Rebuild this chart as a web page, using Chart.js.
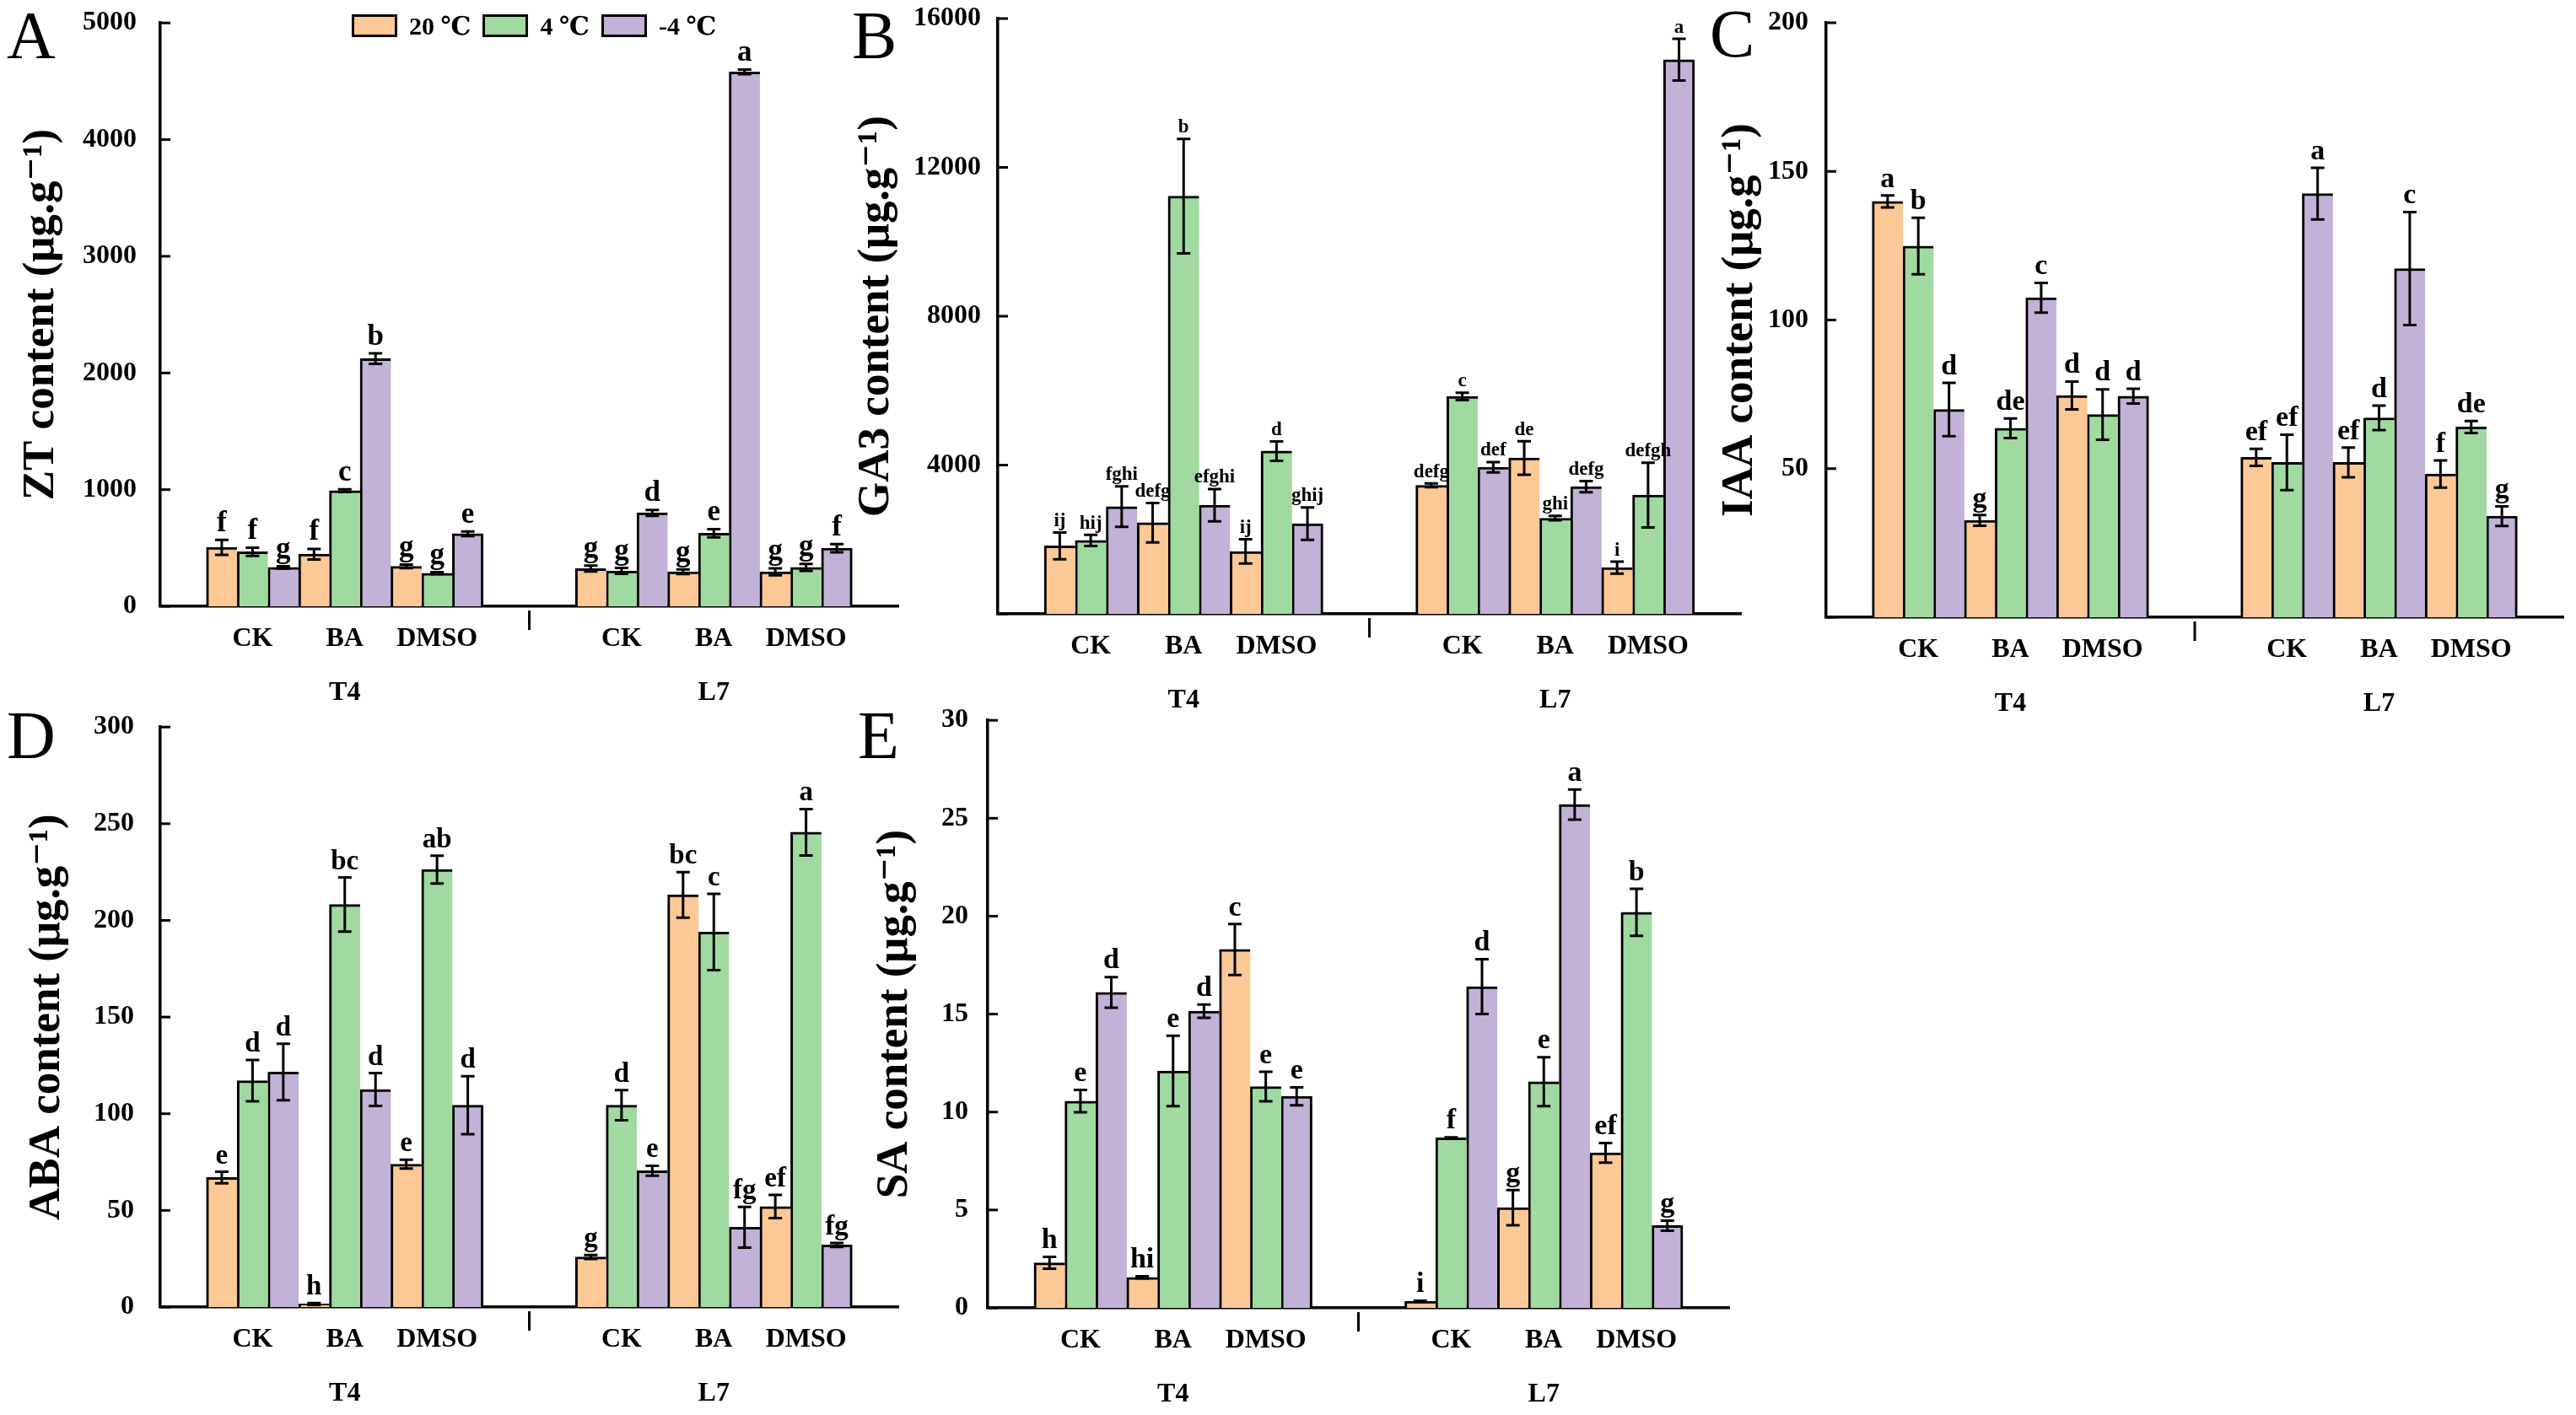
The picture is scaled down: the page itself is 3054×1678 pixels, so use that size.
<!DOCTYPE html>
<html>
<head>
<meta charset="utf-8">
<script src="https://cdn.jsdelivr.net/npm/chart.js@4.4.0/dist/chart.umd.min.js"></script>
<style>
  html, body { margin: 0; padding: 0; background: #fff; }
  #page { position: relative; width: 3054px; height: 1678px; overflow: hidden; }
  canvas { position: absolute; }
  .tag { position: absolute; font: 80px 'Liberation Serif', 'Times New Roman', serif; line-height: 1; color: #000; }
  #legend { position: absolute; left: 417px; top: 13px; display: flex; align-items: center;
            font: bold 30px 'Liberation Serif', 'DejaVu Serif', serif; color: #000; }
  #legend .box { width: 54px; height: 27px; box-sizing: border-box; border: 3px solid #000; margin-right: 14px; }
  #legend .txt { margin-right: 14px; }
</style>
</head>
<body>
<div id="page">
  <canvas id="chartA"></canvas>
  <canvas id="chartB"></canvas>
  <canvas id="chartC"></canvas>
  <canvas id="chartD"></canvas>
  <canvas id="chartE"></canvas>
  <div class="tag" style="left:8px;top:2px">A</div>
  <div class="tag" style="left:1010px;top:2px">B</div>
  <div class="tag" style="left:2027px;top:0px">C</div>
  <div class="tag" style="left:8px;top:832px">D</div>
  <div class="tag" style="left:1017px;top:832px">E</div>
  <div id="legend"></div>
</div>
<script>
const categories = ['CK', 'BA', 'DMSO'];
const lines = ['T4', 'L7'];
const temps = ['20 ℃', '4 ℃', '-4 ℃'];

// order inside each series: T4 CK, T4 BA, T4 DMSO, L7 CK, L7 BA, L7 DMSO
const ztMean = [[505, 447, 342, 323, 296, 296], [467, 991, 284, 303, 626, 334], [334, 2123, 622, 801, 4580, 498]];
const ztErr = [[65, 45, 15, 25, 20, 30], [35, 12, 8, 25, 35, 30], [10, 45, 20, 25, 20, 35]];
const ztSig = [['f', 'f', 'g', 'g', 'g', 'g'], ['f', 'c', 'g', 'g', 'e', 'g'], ['g', 'b', 'e', 'd', 'a', 'f']];

const ga3Mean = [[1828, 2449, 1678, 3456, 4190, 1243], [1977, 11226, 4376, 5843, 2573, 3195], [2884, 2921, 2424, 3941, 3419, 14894]];
const ga3Err = [[360, 530, 325, 50, 450, 160], [150, 1540, 260, 100, 60, 870], [545, 435, 435, 140, 150, 560]];
const ga3Sig = [['ij', 'defg', 'ij', 'defg', 'de', 'i'], ['hij', 'b', 'd', 'c', 'ghi', 'defgh'], ['fghi', 'efghi', 'ghij', 'def', 'defg', 'a']];

const iaaMean = [[139.9, 32.6, 74.6, 53.8, 52.1, 48.2], [124.9, 63.6, 68.2, 52.1, 67.1, 64.0], [69.9, 107.5, 74.4, 142.5, 117.3, 34.0]];
const iaaErr = [[2, 1.8, 4.7, 2.9, 5, 4.6], [9.5, 3.3, 8.5, 9.3, 4.1, 2], [9, 5, 2.5, 8.7, 19, 3.3]];
const iaaSig = [['a', 'g', 'd', 'ef', 'ef', 'f'], ['b', 'de', 'd', 'ef', 'd', 'de'], ['d', 'c', 'd', 'a', 'c', 'g']];

const abaMean = [[67.0, 1.6, 73.9, 25.9, 213.2, 52.0], [117.1, 208.2, 226.3, 104.4, 194.0, 245.6], [121.6, 112.5, 104.4, 70.5, 41.3, 32.1]];
const abaErr = [[3, 0.5, 2.3, 1, 11.8, 6], [10.7, 14, 7.2, 7.8, 19.7, 12], [14.6, 8.5, 15, 2.6, 10.5, 1]];
const abaSig = [['e', 'h', 'e', 'g', 'bc', 'ef'], ['d', 'bc', 'ab', 'd', 'c', 'a'], ['d', 'd', 'd', 'e', 'fg', 'fg']];

const saMean = [[2.30, 1.56, 18.3, 0.34, 5.12, 7.92], [10.56, 12.1, 11.3, 8.68, 11.55, 20.2], [16.11, 15.15, 10.8, 16.4, 25.7, 4.2]];
const saErr = [[0.3, 0.05, 1.3, 0.03, 0.9, 0.5], [0.57, 1.8, 0.75, 0.03, 1.25, 1.2], [0.78, 0.34, 0.46, 1.4, 0.77, 0.26]];
const saSig = [['h', 'hi', 'c', 'i', 'g', 'ef'], ['e', 'e', 'e', 'f', 'e', 'b'], ['d', 'd', 'e', 'd', 'a', 'g']];

const barColors = ['#FCC896', '#A0DAA0', '#C3B2D7'];
const SERIF = "'Liberation Serif', 'Times New Roman', 'DejaVu Serif', serif";

// x axis: blank slot, T4 groups, blank gap, L7 groups, blank slot
function xLabels() {
  const out = [''];
  lines.forEach(ln => {
    categories.forEach((c, j) => out.push(j === 1 ? [c, '', ln] : c));
    out.push('');
  });
  return out;
}
function spread(arr) {
  const out = [null];
  lines.forEach((ln, k) => {
    categories.forEach((c, j) => out.push(arr[k * categories.length + j]));
    out.push(null);
  });
  return out;
}

const errorBars = {
  id: 'errorBars',
  afterDatasetsDraw(chart, args, opts) {
    const ctx = chart.ctx;
    const ys = chart.scales.y;
    const area = chart.chartArea;
    ctx.save();
    ctx.strokeStyle = '#000';
    ctx.fillStyle = '#000';
    ctx.lineWidth = 3;
    chart.data.datasets.forEach((ds, di) => {
      chart.getDatasetMeta(di).data.forEach((bar, i) => {
        const v = ds.data[i];
        if (v == null) return;
        const e = ds.err[i];
        const top = ys.getPixelForValue(v + e);
        const bot = ys.getPixelForValue(Math.max(v - e, 0));
        ctx.beginPath();
        ctx.moveTo(bar.x, top); ctx.lineTo(bar.x, bot);
        ctx.moveTo(bar.x - 8, top); ctx.lineTo(bar.x + 8, top);
        ctx.moveTo(bar.x - 8, bot); ctx.lineTo(bar.x + 8, bot);
        ctx.stroke();
        ctx.font = 'bold ' + opts.size + 'px ' + SERIF;
        ctx.textAlign = 'center';
        ctx.textBaseline = 'bottom';
        ctx.fillText(ds.sig[i], bar.x, top - 2);
      });
    });
    // inward tick marks on the y axis
    ys.ticks.forEach(t => {
      const py = ys.getPixelForValue(t.value);
      ctx.beginPath();
      ctx.moveTo(area.left, py);
      ctx.lineTo(area.left + 12, py);
      ctx.stroke();
    });
    // separator between the T4 and L7 blocks
    const px = chart.scales.x.getPixelForValue(categories.length + 1);
    ctx.beginPath();
    ctx.moveTo(px, area.bottom + 5);
    ctx.lineTo(px, area.bottom + 28);
    ctx.stroke();
    ctx.restore();
  }
};

function makePanel(id, g) {
  const canvas = document.getElementById(id);
  canvas.width = g.w;
  canvas.height = g.h;
  canvas.style.left = g.cx + 'px';
  canvas.style.top = g.cy + 'px';
  new Chart(canvas, {
    type: 'bar',
    data: {
      labels: xLabels(),
      datasets: temps.map((t, k) => ({
        label: t,
        data: spread(g.mean[k]),
        err: spread(g.err[k]),
        sig: spread(g.sig[k]),
        backgroundColor: barColors[k],
        borderColor: '#000',
        borderWidth: c => ({ top: 3, left: 3, bottom: 0,
          right: (k === 2 && (c.dataIndex === 3 || c.dataIndex === 7)) ? 3 : 0 }),
        categoryPercentage: 1,
        barPercentage: 1
      }))
    },
    options: {
      responsive: false,
      animation: false,
      layout: { padding: { top: g.top - g.cy, right: g.cx + g.w - g.right, left: 0, bottom: 0 } },
      scales: {
        x: {
          offset: false,
          grid: { display: false },
          border: { display: true, color: '#000', width: 3.5 },
          ticks: {
            autoSkip: false, maxRotation: 0, minRotation: 0, padding: 15, color: '#000',
            font: { family: SERIF, size: 32, weight: 'bold', lineHeight: 1.0 }
          },
          afterFit: s => { s.height = g.cy + g.h - g.bottom; }
        },
        y: {
          min: 0,
          max: g.max,
          grid: { display: false },
          border: { display: true, color: '#000', width: 3.5 },
          ticks: {
            stepSize: g.step, padding: g.tickPad, color: '#000',
            font: { family: SERIF, size: 32, weight: 'bold' },
            callback: v => (v === 0 && g.hideZero) ? '' : String(v)
          },
          title: {
            display: true, text: g.title, color: '#000',
            font: { family: SERIF, size: 53, weight: 'bold' },
            padding: { top: g.titlePad, bottom: 0 }
          },
          afterFit: s => { s.width = g.left - g.cx; }
        }
      },
      plugins: {
        legend: { display: false },
        tooltip: { enabled: false },
        errorBars: { size: g.sigSize }
      }
    },
    plugins: [errorBars]
  });
}

makePanel('chartA', { mean: ztMean, err: ztErr, sig: ztSig, max: 5000, step: 1000, hideZero: false,
  title: 'ZT content (μg.g⁻¹)', cx: 0, cy: -12, w: 1080, h: 880,
  left: 190, top: 14, right: 1067, bottom: 719, tickPad: 20, titlePad: 18, sigSize: 35 });
makePanel('chartB', { mean: ga3Mean, err: ga3Err, sig: ga3Sig, max: 16000, step: 4000, hideZero: true,
  title: 'GA3 content (μg.g⁻¹)', cx: 1000, cy: -12, w: 1080, h: 880,
  left: 1183, top: 22, right: 2064, bottom: 728, tickPad: 12, titlePad: 8, sigSize: 23 });
makePanel('chartC', { mean: iaaMean, err: iaaErr, sig: iaaSig, max: 200, step: 50, hideZero: true,
  title: 'IAA content (μg.g⁻¹)', cx: 2000, cy: -12, w: 1054, h: 880,
  left: 2165, top: 27, right: 3049, bottom: 732, tickPad: 13, titlePad: 32, sigSize: 34 });
makePanel('chartD', { mean: abaMean, err: abaErr, sig: abaSig, max: 300, step: 50, hideZero: false,
  title: 'ABA content (μg.g⁻¹)', cx: 0, cy: 820, w: 1080, h: 858,
  left: 190, top: 845, right: 1067, bottom: 1550, tickPad: 23, titlePad: 25, sigSize: 33 });
makePanel('chartE', { mean: saMean, err: saErr, sig: saSig, max: 30, step: 5, hideZero: false,
  title: 'SA content (μg.g⁻¹)', cx: 1000, cy: 820, w: 1080, h: 858,
  left: 1171, top: 845, right: 2050, bottom: 1551, tickPad: 15, titlePad: 30, sigSize: 34 });

// shared legend, placed at the top of panel A
const legend = document.getElementById('legend');
temps.forEach((t, k) => {
  const box = document.createElement('span');
  box.className = 'box';
  box.style.background = barColors[k];
  const txt = document.createElement('span');
  txt.className = 'txt';
  txt.textContent = t;
  legend.appendChild(box);
  legend.appendChild(txt);
});
</script>
</body>
</html>
